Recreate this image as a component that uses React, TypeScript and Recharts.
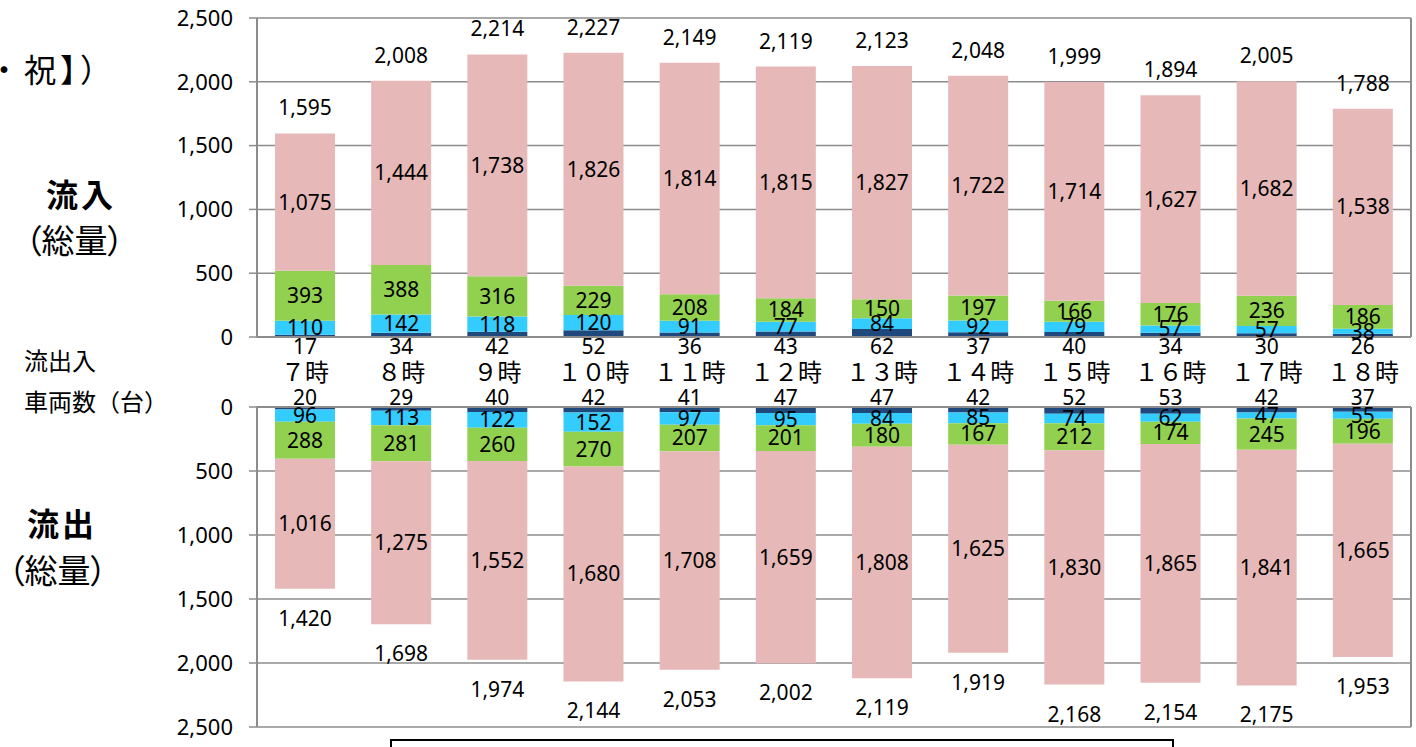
import React from 'react';
import { BarChart, Bar, XAxis, YAxis, CartesianGrid, LabelList } from 'recharts';

// 時間帯
const hours = ['７時', '８時', '９時', '１０時', '１１時', '１２時', '１３時', '１４時', '１５時', '１６時', '１７時', '１８時'];

// 流入（総量）
const inNavy = [17, 34, 42, 52, 36, 43, 62, 37, 40, 34, 30, 26];
const inBlue = [110, 142, 118, 120, 91, 77, 84, 92, 79, 57, 57, 38];
const inGreen = [393, 388, 316, 229, 208, 184, 150, 197, 166, 176, 236, 186];
const inPink = [1075, 1444, 1738, 1826, 1814, 1815, 1827, 1722, 1714, 1627, 1682, 1538];
const inTotal = [1595, 2008, 2214, 2227, 2149, 2119, 2123, 2048, 1999, 1894, 2005, 1788];

// 流出（総量）
const outNavy = [20, 29, 40, 42, 41, 47, 47, 42, 52, 53, 42, 37];
const outBlue = [96, 113, 122, 152, 97, 95, 84, 85, 74, 62, 47, 55];
const outGreen = [288, 281, 260, 270, 207, 201, 180, 167, 212, 174, 245, 196];
const outPink = [1016, 1275, 1552, 1680, 1708, 1659, 1808, 1625, 1830, 1865, 1841, 1665];
const outTotal = [1420, 1698, 1974, 2144, 2053, 2002, 2119, 1919, 2168, 2154, 2175, 1953];

const yTicks = [0, 500, 1000, 1500, 2000, 2500];
const edgeTicks = [0, 1, 2, 3, 4, 5, 6, 7, 8, 9, 10, 11, 12];

const inRows = hours.map((hour, i) => ({
  hour, navy: inNavy[i], blue: inBlue[i], green: inGreen[i], pink: inPink[i], total: inTotal[i],
}));
const outRows = hours.map((hour, i) => ({
  hour, navy: outNavy[i], blue: outBlue[i], green: outGreen[i], pink: outPink[i], total: outTotal[i],
}));

const NUM_FONT = '"Noto Sans", sans-serif';
const JP_FONT = '"Noto Sans CJK JP", sans-serif';
const GRID = '#8c8c8c';
const NAVY = '#1F497D';
const BLUE = '#33CCFF';
const GREEN = '#92D050';
const PINK = '#E6B9B8';
const NUM_SIZE = 21;

const fmt = (v: any) => Number(v).toLocaleString('en-US');

function rectOf(p: any) {
  const vb = p.viewBox && typeof p.viewBox.width === 'number' ? p.viewBox : p;
  const x = Number(vb.x), y = Number(vb.y), w = Number(vb.width), h = Number(vb.height);
  return { cx: x + w / 2, top: Math.min(y, y + h), bottom: Math.max(y, y + h) };
}

// label outside the bar: above its top or below its bottom
const outside = (side: 'above' | 'below', gap: number) => (p: any) => {
  const r = rectOf(p);
  const ty = side === 'above' ? r.top - gap : r.bottom + gap;
  return (
    <text x={r.cx} y={ty} textAnchor="middle" dominantBaseline="central"
      fill="#000" fontSize={NUM_SIZE} fontFamily={NUM_FONT}>
      {fmt(p.value)}
    </text>
  );
};

const HourTick = (props: any) => {
  const { x, y, payload } = props;
  return (
    <text x={x} y={y + 33} textAnchor="middle" dominantBaseline="central"
      fill="#000" fontSize={24} fontFamily={JP_FONT}>
      {payload.value}
    </text>
  );
};

const centerLabel = (key: string) => (
  <LabelList dataKey={key} position="center" formatter={fmt}
    fill="#000" fontSize={NUM_SIZE} fontFamily={NUM_FONT} />
);

const yTick = { fill: '#000', fontSize: 22, fontFamily: NUM_FONT };
const axisLine = { stroke: GRID, strokeWidth: 2 };
const palt = { fontFeatureSettings: '"palt"' } as React.CSSProperties;

export default function App() {
  return (
    <div style={{ position: 'fixed', left: 0, top: 0, width: 1416, height: 747, overflow: 'hidden', background: '#fff' }}>
      <div style={{ position: 'absolute', right: 1300, top: 45, whiteSpace: 'nowrap', fontSize: 32, letterSpacing: 4, fontFamily: JP_FONT, color: '#000' }}>
        （【土・日・祝】）
      </div>

      <div style={{ position: 'absolute', left: 46, top: 170, fontSize: 32, fontWeight: 700, fontFamily: JP_FONT, letterSpacing: 3 }}>流入</div>
      <div style={{ position: 'absolute', left: 25, top: 215, fontSize: 33, fontFamily: JP_FONT, ...palt }}>（総量）</div>
      <div style={{ position: 'absolute', left: 27, top: 499, fontSize: 32, fontWeight: 700, fontFamily: JP_FONT, letterSpacing: 3 }}>流出</div>
      <div style={{ position: 'absolute', left: 8, top: 545, fontSize: 33, fontFamily: JP_FONT, ...palt }}>（総量）</div>
      <div style={{ position: 'absolute', left: 24, top: 339, fontSize: 24, fontFamily: JP_FONT, lineHeight: '41px' }}>
        流出入<br />車両数（台）
      </div>

      <div style={{ position: 'absolute', left: 0, top: 0 }}>
        <BarChart width={1416} height={390} data={inRows} barSize={60}
          margin={{ top: 18, right: 4, bottom: 0, left: 0 }}>
          <CartesianGrid yAxisId="left" vertical={false} stroke={GRID} strokeWidth={1.5} />
          <XAxis dataKey="hour" height={53} interval={0} axisLine={axisLine}
            tickLine={false} tickSize={0} tickMargin={0} tick={<HourTick />} />
          <XAxis xAxisId="edge" type="number" domain={[0, 12]} ticks={edgeTicks} allowDataOverflow
            mirror axisLine={false} tickLine={{ stroke: GRID, strokeWidth: 2 }} tickSize={9} tick={false} />
          <YAxis yAxisId="left" domain={[0, 2500]} ticks={yTicks} interval={0} tickFormatter={fmt}
            width={257} axisLine={axisLine} tickLine={{ stroke: GRID, strokeWidth: 1.5 }}
            tickSize={8} tickMargin={16} tick={yTick} />
          <YAxis yAxisId="frame" orientation="right" width={1} domain={[0, 1]}
            tick={false} tickLine={false} axisLine={axisLine} />
          <Bar yAxisId="left" dataKey="navy" stackId="s" fill={NAVY} isAnimationActive={false}>
            <LabelList dataKey="navy" content={outside('below', 9)} />
          </Bar>
          <Bar yAxisId="left" dataKey="blue" stackId="s" fill={BLUE} isAnimationActive={false}>
            {centerLabel('blue')}
          </Bar>
          <Bar yAxisId="left" dataKey="green" stackId="s" fill={GREEN} isAnimationActive={false}>
            {centerLabel('green')}
          </Bar>
          <Bar yAxisId="left" dataKey="pink" stackId="s" fill={PINK} isAnimationActive={false}>
            {centerLabel('pink')}
            <LabelList dataKey="total" content={outside('above', 26)} />
          </Bar>
        </BarChart>
      </div>

      <div style={{ position: 'absolute', left: 0, top: 380 }}>
        <BarChart width={1416} height={362} data={outRows} barSize={60}
          margin={{ top: 26, right: 4, bottom: 15, left: 0 }}>
          <CartesianGrid yAxisId="left" vertical={false} stroke={GRID} strokeWidth={1.5} />
          <XAxis dataKey="hour" orientation="top" height={1} interval={0} axisLine={axisLine}
            tickLine={false} tick={false} />
          <XAxis xAxisId="edge" type="number" orientation="top" domain={[0, 12]} ticks={edgeTicks} allowDataOverflow
            mirror axisLine={false} tickLine={{ stroke: GRID, strokeWidth: 2 }} tickSize={9} tick={false} />
          <YAxis yAxisId="left" reversed domain={[0, 2500]} ticks={yTicks} interval={0} tickFormatter={fmt}
            width={257} axisLine={axisLine} tickLine={{ stroke: GRID, strokeWidth: 1.5 }}
            tickSize={8} tickMargin={16} tick={yTick} />
          <YAxis yAxisId="frame" orientation="right" width={1} domain={[0, 1]}
            tick={false} tickLine={false} axisLine={axisLine} />
          <Bar yAxisId="left" dataKey="navy" stackId="s" fill={NAVY} isAnimationActive={false}>
            <LabelList dataKey="navy" content={outside('above', 10)} />
          </Bar>
          <Bar yAxisId="left" dataKey="blue" stackId="s" fill={BLUE} isAnimationActive={false}>
            {centerLabel('blue')}
          </Bar>
          <Bar yAxisId="left" dataKey="green" stackId="s" fill={GREEN} isAnimationActive={false}>
            {centerLabel('green')}
          </Bar>
          <Bar yAxisId="left" dataKey="pink" stackId="s" fill={PINK} isAnimationActive={false}>
            {centerLabel('pink')}
            <LabelList dataKey="total" content={outside('below', 29)} />
          </Bar>
        </BarChart>
      </div>

      <div style={{ position: 'absolute', left: 390, top: 739, width: 780, height: 40, border: '2.5px solid #000' }} />
    </div>
  );
}
